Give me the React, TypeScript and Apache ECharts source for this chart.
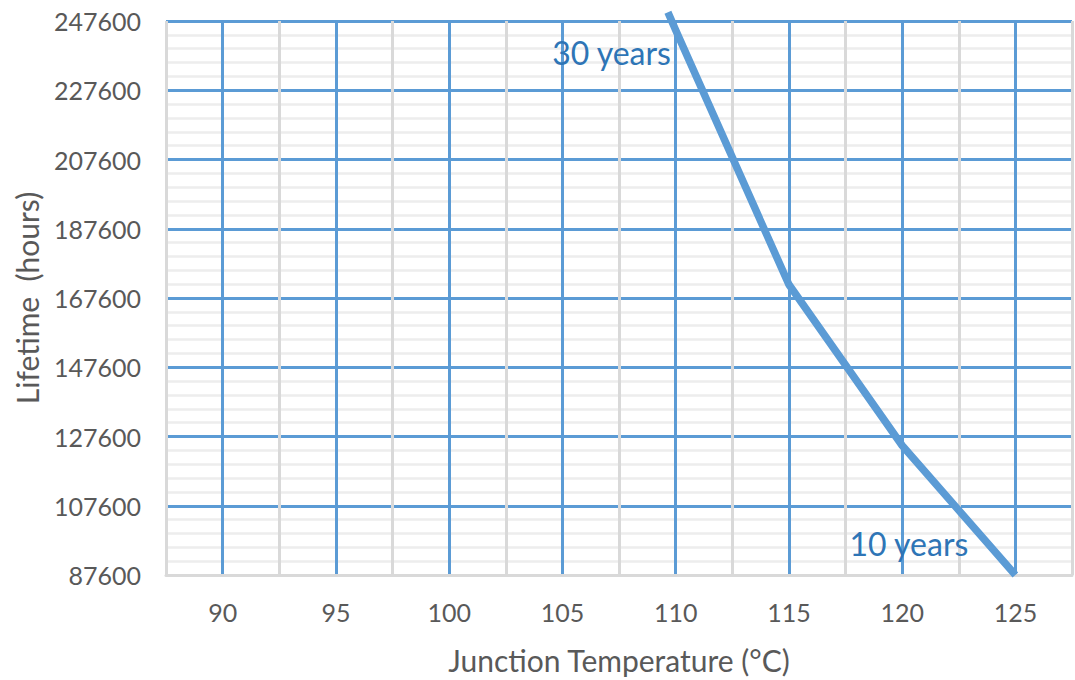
import React, { useEffect, useRef } from "react";
import * as echarts from "echarts";

// Junction temperature (°C) and lifetime (hours)
const temperatures = [109.66, 110, 115, 120, 125];
const lifetimes = [250100, 245000, 171500, 125000, 87600];

// Annotations: [temperature, hours, text]
const annotationTemps = [107.17, 120.3];
const annotationHours = [238500, 96800];
const annotationTexts = ["30 years", "10 years"];

const xMin = 87.5;
const xMax = 127.5;
const yMin = 87600;
const yMax = 247600;

const FONT = "Lato, 'Open Sans', sans-serif";

export default function App() {
  const ref = useRef<HTMLDivElement>(null);

  useEffect(() => {
    if (!ref.current) return;
    const chart = echarts.init(ref.current, null, { renderer: "svg" });
    const data = temperatures.map((t, i) => [t, lifetimes[i]]);
    const marks = annotationTemps.map((t, i) => ({
      coord: [t, annotationHours[i]],
      name: annotationTexts[i],
    }));
    chart.setOption({
      animation: false,
      backgroundColor: "#ffffff",
      grid: { left: 166, right: 3, top: 21, bottom: 105, containLabel: false },
      xAxis: {
        type: "value",
        min: xMin,
        max: xMax,
        interval: 2.5,
        name: "Junction Temperature (°C)",
        nameLocation: "middle",
        nameGap: 70,
        nameTextStyle: { fontSize: 30, color: "#595959", fontFamily: FONT },
        axisLine: { show: true, lineStyle: { color: "#d9d9d9", width: 3 } },
        axisTick: { show: false },
        axisLabel: {
          fontSize: 25,
          color: "#595959",
          fontFamily: FONT,
          margin: 24,
          formatter: (v: number) => (v % 5 === 0 ? String(v) : ""),
        },
        splitLine: {
          show: true,
          lineStyle: { color: ["#d9d9d9", "#5b9bd5"], width: 3 },
        },
      },
      yAxis: {
        type: "value",
        min: yMin,
        max: yMax,
        interval: 20000,
        name: "Lifetime  (hours)",
        nameLocation: "middle",
        nameGap: 124,
        nameTextStyle: { fontSize: 30, color: "#595959", fontFamily: FONT },
        axisLine: { show: false },
        axisTick: { show: false },
        axisLabel: {
          fontSize: 25,
          color: "#595959",
          fontFamily: FONT,
          margin: 25,
          formatter: (v: number) => String(v),
        },
        splitLine: { show: true, lineStyle: { color: "#5b9bd5", width: 3 } },
        minorTick: { show: false, splitNumber: 5 },
        minorSplitLine: { show: true, lineStyle: { color: "#ededed", width: 2.5 } },
      },
      series: [
        {
          type: "line",
          data,
          showSymbol: false,
          symbol: "none",
          clip: false,
          lineStyle: { color: "#5b9bd5", width: 7.5, cap: "butt", join: "round" },
          markPoint: {
            symbol: "rect",
            symbolSize: 1,
            itemStyle: { color: "rgba(0,0,0,0)" },
            label: {
              show: true,
              position: "inside",
              formatter: "{b}",
              fontSize: 32,
              color: "#2e75b6",
              fontFamily: FONT,
            },
            data: marks,
          },
        },
      ],
    });
    return () => chart.dispose();
  }, []);

  return (
    <div
      ref={ref}
      style={{ position: "fixed", left: 0, top: 0, width: 1075, height: 680, background: "#fff" }}
    />
  );
}
